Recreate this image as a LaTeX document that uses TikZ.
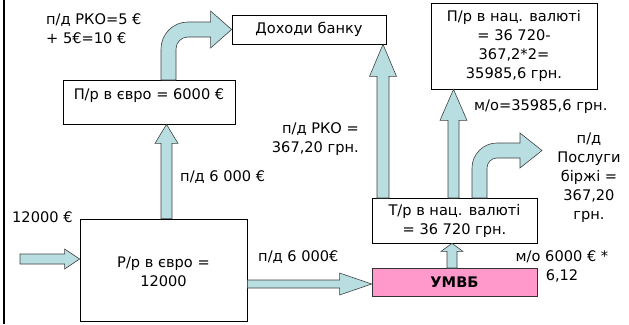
\documentclass[tikz,border=0pt]{standalone}
\usepackage{fontspec}
\setmainfont{DejaVu Sans}
\usetikzlibrary{calc}
\definecolor{arrowblue}{HTML}{B8DEE1}
\definecolor{pinkbox}{HTML}{FF99CC}
\tikzset{
  box/.style={draw=black, line width=0.8pt, fill=white, inner sep=0pt},
  arr/.style={fill=arrowblue, draw=black!75, line width=0.6pt, line join=miter},
  lbl/.style={inner sep=0pt, font=\fontsize{14.6}{19}\selectfont, align=center},
}
% vertical block arrow pointing up: #1 bottom, #2 tip, #3 shaft half, #4 head half, #5 head length
\newcommand\vuparrow[5]{%
  \draw[arr] let \p1=(#1), \p2=(#2) in
    (\x1-#3,\y1) -- (\x1-#3,\y2-#5) -- (\x1-#4,\y2-#5) -- (\x1,\y2)
    -- (\x1+#4,\y2-#5) -- (\x1+#3,\y2-#5) -- (\x1+#3,\y1) -- cycle;}
% horizontal block arrow pointing right: #1 tail, #2 tip
\newcommand\rtarrow[5]{%
  \draw[arr] let \p1=(#1), \p2=(#2) in
    (\x1,\y1+#3) -- (\x2-#5,\y1+#3) -- (\x2-#5,\y1+#4) -- (\x2,\y1)
    -- (\x2-#5,\y1-#4) -- (\x2-#5,\y1-#3) -- (\x1,\y1-#3) -- cycle;}
% bent block arrow: #1 bottom centre, #2 tip, #3 shaft half, #4 head half, #5 head length, #6 outer radius, #7 inner radius
\newcommand\bentarrow[7]{%
  \draw[arr] let \p1=(#1), \p2=(#2) in
    (\x1-#3,\y1) -- (\x1-#3,\y2+#3-#6)
    .. controls (\x1-#3,\y2+#3-0.4477*#6) and (\x1-#3+0.4477*#6,\y2+#3) .. (\x1-#3+#6,\y2+#3)
    -- (\x2-#5,\y2+#3) -- (\x2-#5,\y2+#4) -- (\x2,\y2) -- (\x2-#5,\y2-#4) -- (\x2-#5,\y2-#3)
    -- (\x1+#3+#7,\y2-#3)
    .. controls (\x1+#3+0.4477*#7,\y2-#3) and (\x1+#3,\y2-#3-0.4477*#7) .. (\x1+#3,\y2-#3-#7)
    -- (\x1+#3,\y1) -- cycle;}
\begin{document}
\begin{tikzpicture}[x=1pt,y=-1pt]
\useasboundingbox (0,0) rectangle (629,324);
\fill[black] (2.5,0) rectangle (5,324);

% boxes
\node[box, minimum width=154pt, minimum height=29pt] (doh) at (309,29.5) {};
\node[lbl] at (doh.center) {Доходи банку};
\node[box, minimum width=166pt, minimum height=86pt] (pnac) at (514,46) {};
\node[lbl] at (pnac.center) {П/р в нац. валюті\\= 36 720-\\367,2*2=\\35985,6 грн.};
\node[box, minimum width=172pt, minimum height=44pt] (pe) at (149,102) {};
\node[lbl, anchor=center] (petext) at ($(pe.north)+(0,16)$) {П/р в євро = 6000 €};
\node[box, minimum width=167pt, minimum height=102pt] (rr) at (163.5,270) {};
\node[lbl] at ($(rr.center)+(0,2)$) {Р/р в євро =\\12000};
\node[box, minimum width=165pt, minimum height=45pt] (tr) at (454.5,220.5) {};
\node[lbl] at (tr.center) {Т/р в нац. валюті\\= 36 720 грн.};
\node[box, fill=pinkbox, draw=black!80, minimum width=165pt, minimum height=28pt] (um) at (454.5,282) {};
\node[lbl, font=\fontsize{14.6}{19}\selectfont\bfseries] at (um.center) {УМВБ};

% arrows
\coordinate (a1) at ($(rr.north)+(3,0)$);
\coordinate (a2) at (a1 |- pe.south);
\vuparrow{a1}{a2}{5.5pt}{11.5pt}{19pt}

\coordinate (b1) at (383,198);
\coordinate (b2) at (b1 |- doh.south);
\vuparrow{b1}{b2}{6pt}{13.5pt}{32pt}

\coordinate (c1) at (453.5,198);
\coordinate (c2) at (c1 |- pnac.south);
\vuparrow{c1}{c2}{5.5pt}{13.5pt}{31pt}

\coordinate (d1) at (452,268);
\coordinate (d2) at (d1 |- tr.south);
\vuparrow{d1}{d2}{5pt}{11pt}{8pt}

\coordinate (e1) at (rr.east |- 0,284);
\coordinate (e2) at (um.west |- e1);
\rtarrow{e1}{e2}{4pt}{11pt}{32pt}

\coordinate (f1) at (20,259);
\coordinate (f2) at (rr.west |- f1);
\rtarrow{f1}{f2}{5pt}{10pt}{15pt}

\coordinate (g1) at (168.5,80);
\coordinate (g2) at (doh.west);
\bentarrow{g1}{g2}{7.5pt}{18.5pt}{21pt}{27pt}{12pt}

\coordinate (h1) at (479.5,198);
\coordinate (h2) at (542,150.5);
\bentarrow{h1}{h2}{7.5pt}{17.5pt}{22pt}{25pt}{10pt}

% labels
\node[lbl, align=left, anchor=west] (l1) at (46,29) {п/д РКО=5 €\\+ 5€=10 €};
\node[lbl, anchor=west] (l2) at (180,177) {п/д 6 000 €};
\node[lbl, align=right, anchor=east] (l3) at (359,139) {п/д РКО =\\367,20 грн.};
\node[lbl, anchor=west] (l4) at (474,107) {м/о=35985,6 грн.};
\node[lbl] (l5) at (589,177.5) {п/д\\Послуги\\біржі =\\367,20\\грн.};
\node[lbl, anchor=west] (l6) at (12,217) {12000 €};
\node[lbl, anchor=west] (l7) at (258,257) {п/д 6 000€};
\node[lbl] (l8) at (562,266) {м/о 6000 € *\\6,12};
\end{tikzpicture}
\end{document}
